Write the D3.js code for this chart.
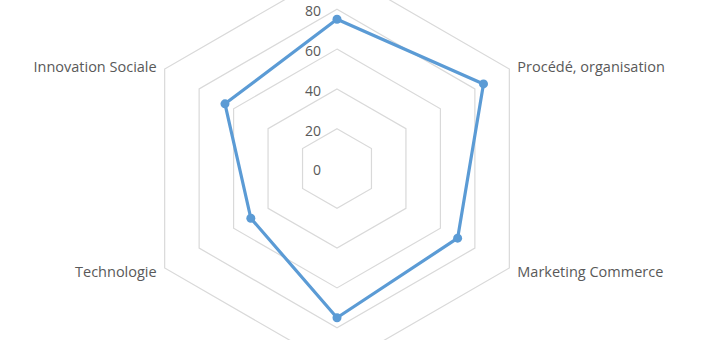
<!DOCTYPE html>
<html>
<head>
<meta charset="utf-8">
<script src="https://cdn.jsdelivr.net/npm/d3@7"></script>
<style>
  body { margin: 0; background: #fff; }
  svg { display: block; font-family: "Open Sans", sans-serif; }
</style>
</head>
<body>
<svg id="chart" width="720" height="340"></svg>
<script>
// axes clockwise from the top; top and bottom labels sit outside the picture
const categories = ['', 'Procédé, organisation', 'Marketing Commerce', '', 'Technologie', 'Innovation Sociale'];
const values = [75, 85, 70, 75, 50, 65];
const ticks = [0, 20, 40, 60, 80, 100];
const tickLabels = ['0', '20', '40', '60', '80'];

const svg = d3.select('#chart');
const cx = 337, cy = 168.5;

const r = d3.scaleLinear().domain([0, 100]).range([0, 199]);
const angle = d3.scalePoint().domain(d3.range(categories.length)).range([0, 2 * Math.PI * (categories.length - 1) / categories.length]);

const g = svg.append('g').attr('transform', `translate(${cx},${cy})`);

function pt(i, v) {
  const a = angle(i);
  return [Math.sin(a) * r(v), -Math.cos(a) * r(v)];
}

// grid hexagons
ticks.slice(1).forEach(t => {
  g.append('path')
    .attr('d', d3.line()(categories.map((c, i) => pt(i, t))) + 'Z')
    .attr('fill', 'none')
    .attr('stroke', '#d9d9d9')
    .attr('stroke-width', 1.2);
});

// tick labels
g.selectAll('.tick').data(tickLabels).enter().append('text')
  .attr('x', -16)
  .attr('y', d => -r(+d) + 2)
  .attr('dy', '0.35em')
  .attr('text-anchor', 'end')
  .attr('font-size', 14)
  .attr('fill', '#595959')
  .text(d => d);

// category labels
g.selectAll('.cat').data(categories).enter().append('text')
  .attr('x', (d, i) => {
    const [x] = pt(i, 100);
    return x + (x > 1 ? 8 : x < -1 ? -8 : 0);
  })
  .attr('y', (d, i) => pt(i, 100)[1] + (pt(i, 100)[1] < 0 ? -2 : 4))
  .attr('dy', '0.35em')
  .attr('text-anchor', (d, i) => {
    const [x] = pt(i, 100);
    return x > 1 ? 'start' : x < -1 ? 'end' : 'middle';
  })
  .attr('font-size', 14.5)
  .attr('fill', '#595959')
  .text(d => d);

// series
const pts = values.map((v, i) => pt(i, v));
g.append('path')
  .attr('d', d3.line()(pts) + 'Z')
  .attr('fill', 'none')
  .attr('stroke', '#5b9bd5')
  .attr('stroke-width', 3.2)
  .attr('stroke-linejoin', 'round');

g.selectAll('.dot').data(pts).enter().append('circle')
  .attr('cx', d => d[0])
  .attr('cy', d => d[1])
  .attr('r', 4.5)
  .attr('fill', '#5b9bd5');
</script>
</body>
</html>
